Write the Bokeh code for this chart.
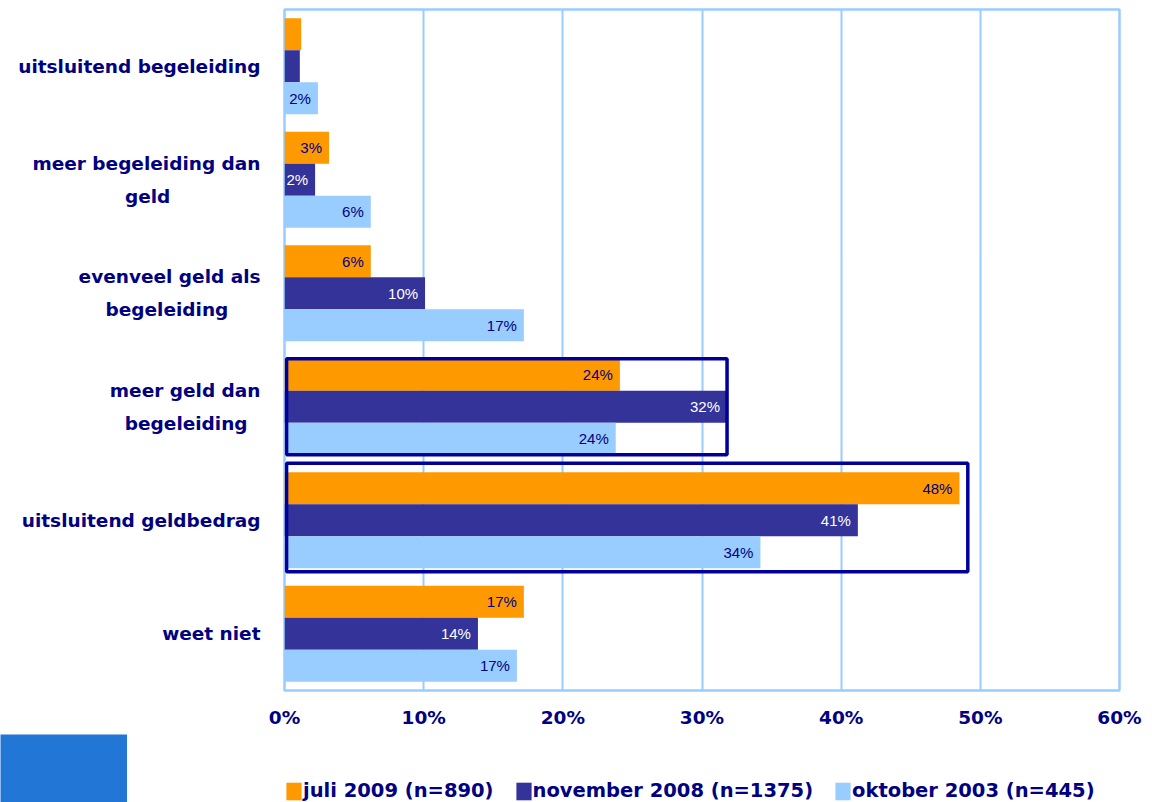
from bokeh.plotting import figure
from bokeh.layouts import column, row
from bokeh.models import (Range1d, FixedTicker, PrintfTickFormatter, Legend,
                          LegendItem, ColumnDataSource)
from bokeh.core.properties import value
from bokeh.embed import file_html
from bokeh.resources import INLINE

# ---------------- data ----------------
categories = ["uitsluitend begeleiding", "meer begeleiding dan\ngeld",
              "evenveel geld als\nbegeleiding", "meer geld dan\nbegeleiding",
              "uitsluitend geldbedrag", "weet niet"]
series_names = ["juli 2009 (n=890)", "november 2008 (n=1375)", "oktober 2003 (n=445)"]
juli_2009 = [1.2, 3.2, 6.2, 24.1, 48.5, 17.2]
november_2008 = [1.1, 2.2, 10.1, 31.8, 41.2, 13.9]
oktober_2003 = [2.4, 6.2, 17.2, 23.8, 34.2, 16.7]
x_ticks = [0, 10, 20, 30, 40, 50, 60]
highlighted = ["meer geld dan\nbegeleiding", "uitsluitend geldbedrag"]

# ---------------- style ----------------
colors = ["#FF9900", "#333399", "#99CCFF"]
label_colors = ["#000080", "#FFFFFF", "#000080"]
NAVY = "#000080"
GRID = "#99CCFF"
BAR_H = 0.282  # fraction of category band per bar
NBSP = "\u00a0"
# trailing no-break spaces centre the short second line under the first one
second_line_pad = {1: 14, 2: 5, 3: 2}

p = figure(width=1152, height=734, x_range=Range1d(0, 60), y_range=Range1d(6, 0),
           output_backend="svg", toolbar_location=None,
           min_border_left=284, min_border_right=33, min_border_top=9, min_border_bottom=44)
p.background_fill_color = "white"
p.border_fill_color = "white"
p.outline_line_color = GRID
p.outline_line_width = 2.5

# category axis (left)
cat_ticks = [i + 0.5 for i in range(len(categories))]
cat_labels = [c + NBSP * second_line_pad.get(i, 0) for i, c in enumerate(categories)]
p.yaxis.ticker = FixedTicker(ticks=cat_ticks)
p.yaxis.major_label_overrides = {t: c for t, c in zip(cat_ticks, cat_labels)}
p.yaxis.axis_line_color = None
p.yaxis.major_tick_line_color = None
p.yaxis.minor_tick_line_color = None
p.yaxis.major_tick_out = 0
p.yaxis.major_tick_in = 0
p.yaxis.major_label_standoff = 24
p.yaxis.major_label_text_font = "DejaVu Sans"
p.yaxis.major_label_text_font_style = "bold"
p.yaxis.major_label_text_font_size = "18.5px"
p.yaxis.major_label_text_color = NAVY
p.yaxis.major_label_text_line_height = 1.55
p.ygrid.visible = False

p.xaxis.ticker = FixedTicker(ticks=x_ticks)
p.xaxis.formatter = PrintfTickFormatter(format="%d%%")
p.xaxis.axis_line_color = None
p.xaxis.major_tick_line_color = None
p.xaxis.minor_tick_line_color = None
p.xaxis.major_tick_out = 0
p.xaxis.major_tick_in = 0
p.xaxis.major_label_standoff = 16
p.xaxis.major_label_text_font = "DejaVu Sans"
p.xaxis.major_label_text_font_style = "bold"
p.xaxis.major_label_text_font_size = "18.5px"
p.xaxis.major_label_text_color = NAVY

p.xgrid.ticker = FixedTicker(ticks=x_ticks)
p.xgrid.grid_line_color = GRID
p.xgrid.grid_line_width = 2

series = [juli_2009, november_2008, oktober_2003]
for k, vals in enumerate(series):
    off = (k - 1) * BAR_H
    ys = [i + 0.5 + off for i in range(len(categories))]
    src = ColumnDataSource(dict(y=ys, right=vals))
    p.hbar(y="y", left=0, right="right", height=BAR_H, source=src,
           fill_color=colors[k], line_color=None)
    lx, ly, lt = [], [], []
    for v, y in zip(vals, ys):
        if round(v) >= 2:
            lx.append(v); ly.append(y); lt.append(f"{round(v)}%")
    p.text(x=lx, y=ly, text=lt, x_offset=-7, text_align="right", text_baseline="middle",
           text_font=value("Liberation Sans"), text_font_size="15px", text_color=label_colors[k])

# highlight boxes around categories
pads = {"meer geld dan\nbegeleiding": (0.0, 0.0, 0.0), "uitsluitend geldbedrag": (0.6, 0.08, 0.03)}
for cat in highlighted:
    i = categories.index(cat)
    mx = max(s[i] for s in series)
    pr, pt, pb = pads[cat]
    p.quad(left=0.15, right=mx + pr, top=i + 0.5 - 1.5 * BAR_H - pt,
           bottom=i + 0.5 + 1.5 * BAR_H + pb, fill_color=None,
           line_color="#000099", line_width=3.5)


def strip(width, fill):
    f = figure(width=width, height=68, x_range=Range1d(0, 1), y_range=Range1d(0, 1),
               output_backend="svg", toolbar_location=None,
               x_axis_location=None, y_axis_location=None,
               min_border_left=0, min_border_right=0, min_border_top=0, min_border_bottom=0)
    f.outline_line_color = None
    f.grid.grid_line_color = None
    f.background_fill_color = fill
    f.border_fill_color = fill
    return f


# slide page-number block in the bottom-left corner
page_box = strip(127, "#2277D6")

# legend strip
leg = strip(1025, "white")
items = []
for k, name in enumerate(series_names):
    r = leg.hbar(y=[-5], right=[-5], left=[-6], height=0.1, fill_color=colors[k], line_color=None)
    items.append(LegendItem(label=name, renderers=[r]))
legend = Legend(items=items, location=(157, 0), orientation="horizontal",
                glyph_width=19, glyph_height=22, label_standoff=0, spacing=20, padding=0,
                margin=0, border_line_color=None, background_fill_alpha=0,
                label_text_font="DejaVu Sans", label_text_font_style="bold",
                label_text_font_size="19.5px", label_text_color=NAVY)
leg.add_layout(legend)

layout = column(p, row(page_box, leg, spacing=0), spacing=0)
open("out.html", "w").write(file_html(layout, INLINE))
